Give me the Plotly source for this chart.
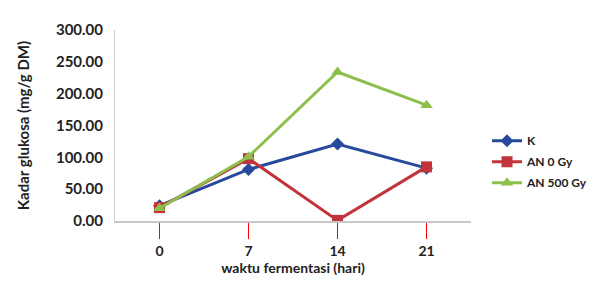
import plotly.graph_objects as go

categories = ["0", "7", "14", "21"]
k_values = [24, 81, 121, 83]
an0_values = [21, 98, 1, 85]
an500_values = [20, 101, 234, 182]
y_ticks = [0, 50, 100, 150, 200, 250, 300]
y_tick_labels = ["0.00", "50.00", "100.00", "150.00", "200.00", "250.00", "300.00"]

font_family = "Lato, 'Open Sans', sans-serif"

fig = go.Figure()
fig.add_trace(go.Scatter(x=categories, y=k_values, name="K", mode="lines+markers", legendgroup="k",
                         line=dict(color="#27499c", width=3),
                         marker=dict(symbol="diamond", size=10, color="#27499c")))
fig.add_trace(go.Scatter(x=categories, y=an0_values, name="AN 0 Gy", mode="lines+markers", legendgroup="an0",
                         line=dict(color="#c1343b", width=3),
                         marker=dict(symbol="square", size=11, color="#c1343b")))
fig.add_trace(go.Scatter(x=categories, y=an500_values, name="AN 500 Gy", mode="lines+markers", legendgroup="an500",
                         line=dict(color="#8cbf4c", width=3),
                         marker=dict(symbol="triangle-up", size=11, color="#8cbf4c")))

fig.update_layout(
    width=612, height=296,
    margin=dict(l=107, r=149, t=12, b=83),
    paper_bgcolor="white", plot_bgcolor="white",
    font=dict(family=font_family, size=14, color="#222222"),
    showlegend=True,
    legend=dict(x=1.045, y=0.31, xanchor="left", yanchor="middle",
                font=dict(size=12, family=font_family, weight="bold"),
                tracegroupgap=2, itemwidth=30, bgcolor="rgba(0,0,0,0)"),
    xaxis=dict(type="category", range=[-0.5, 3.5], showgrid=False, showline=True,
               linecolor="#c8c8c8", linewidth=1.5, automargin=False,
               ticks="outside", ticklen=16, tickcolor="red", tickwidth=1,
               tickfont=dict(size=14, weight="bold"),
               title=dict(text="waktu fermentasi (hari)", font=dict(size=14, weight="bold"), standoff=0)),
    yaxis=dict(range=[0, 300], tickvals=y_ticks, ticktext=y_tick_labels, showgrid=False,
               showline=True, linecolor="#d0d0d0", linewidth=1, ticks="", zeroline=False,
               ticklabelstandoff=8,
               tickfont=dict(size=15, weight="bold"),
               title=dict(text="Kadar glukosa (mg/g DM)", font=dict(size=15, weight="bold"), standoff=22)),
)

fig.write_html("out.html")
